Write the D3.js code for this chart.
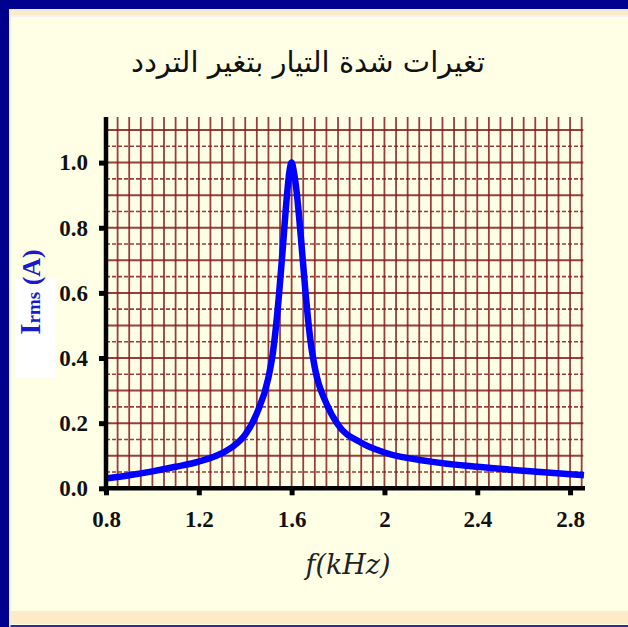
<!DOCTYPE html>
<html><head><meta charset="utf-8">
<script src="https://cdn.jsdelivr.net/npm/d3@7"></script>
<style>
html,body{margin:0;padding:0;background:#fff;}
svg{display:block;}
</style></head>
<body>
<script>
// ---- data ----
const freqKHz = [0.8, 0.9, 1.0, 1.1, 1.2, 1.3, 1.35, 1.4, 1.45, 1.5, 1.52, 1.54, 1.56, 1.58, 1.59, 1.6,
                 1.61, 1.62, 1.64, 1.66, 1.68, 1.7, 1.75, 1.8, 1.9, 2.0, 2.2, 2.4, 2.6, 2.86];
const irms    = [0.030, 0.040, 0.052, 0.066, 0.082, 0.108, 0.130, 0.165, 0.23, 0.34, 0.42, 0.55, 0.72, 0.90, 0.97, 1.0,
                 0.97, 0.92, 0.77, 0.60, 0.46, 0.37, 0.26, 0.195, 0.140, 0.110, 0.082, 0.066, 0.054, 0.040];
const xTicks = [0.8, 1.2, 1.6, 2.0, 2.4, 2.8];
const xTickLabels = ["0.8", "1.2", "1.6", "2", "2.4", "2.8"];
const yTicks = [0.0, 0.2, 0.4, 0.6, 0.8, 1.0];
const yTickLabels = ["0.0", "0.2", "0.4", "0.6", "0.8", "1.0"];
const titleText = "تغيرات شدة التيار بتغير التردد";
const xTitle = "f(kHz)";

// ---- layout ----
const W = 628, H = 627;
const svg = d3.select("body").append("svg").attr("width", W).attr("height", H);

// frame
svg.append("rect").attr("x",0).attr("y",0).attr("width",W).attr("height",H).attr("fill","#FFFFE6");
svg.append("rect").attr("x",10).attr("y",10).attr("width",W-10).attr("height",5).attr("fill","#FDEAC6");
svg.append("rect").attr("x",10).attr("y",15).attr("width",W-10).attr("height",2).attr("fill","#F4F4F4");
svg.append("rect").attr("x",10).attr("y",611).attr("width",W-10).attr("height",13).attr("fill","#FDEAC6");
svg.append("rect").attr("x",0).attr("y",625).attr("width",W).attr("height",2).attr("fill","#2A2AA0");
svg.append("rect").attr("x",0).attr("y",0).attr("width",W).attr("height",9).attr("fill","#00008E");
svg.append("rect").attr("x",0).attr("y",0).attr("width",9).attr("height",H).attr("fill","#00008E");
svg.append("rect").attr("x",9).attr("y",9).attr("width",W-9).attr("height",1.5).attr("fill","#E8E8F4");
svg.append("rect").attr("x",9).attr("y",9).attr("width",1.5).attr("height",H-9).attr("fill","#E8E8F4");

// scales
const x = d3.scaleLinear().domain([0.8, 2.857]).range([106, 583.3]);
const y = d3.scaleLinear().domain([0, 1.14]).range([488.3, 117]);

// grid
const gridColor = "#861C1C";
const g = svg.append("g");
const vGrid = d3.range(0.85, 2.851, 0.05);
g.selectAll("line.v").data(vGrid).join("line")
  .attr("x1", d => x(d)).attr("x2", d => x(d))
  .attr("y1", y(1.14)).attr("y2", y(0))
  .attr("stroke", gridColor).attr("stroke-width", 1.8).attr("stroke-opacity", 0.85);
const hGrid = d3.range(1, 23).map(i => i * 0.05);
const isMajor = d => Math.round(d*100) % 10 === 0;
g.selectAll("line.h").data(hGrid).join("line")
  .attr("x1", x(0.8)).attr("x2", x(2.857))
  .attr("y1", d => y(d)).attr("y2", d => y(d))
  .attr("stroke", gridColor)
  .attr("stroke-width", d => isMajor(d) ? 2 : 1.6)
  .attr("stroke-dasharray", d => isMajor(d) ? null : "4,2")
  .attr("stroke-opacity", 0.85);

// curve
const line = d3.line().x((d,i) => x(freqKHz[i])).y(d => y(d)).curve(d3.curveMonotoneX);
svg.append("path").datum(irms).attr("d", line)
  .attr("fill","none").attr("stroke","#0000FF").attr("stroke-width",6.5)
  .attr("stroke-linejoin","round").attr("stroke-linecap","butt");

// axes
const xAxis = d3.axisBottom(x).tickValues(xTicks).tickFormat((d,i) => xTickLabels[i]).tickSize(7).tickPadding(15);
const gx = svg.append("g").attr("transform", `translate(0,${y(0)})`).call(xAxis);
gx.select(".domain").attr("d", `M104,0H585`).attr("stroke","#000").attr("stroke-width",4.5);
gx.selectAll(".tick line").attr("stroke","#000").attr("stroke-width",5);
gx.selectAll(".tick text").attr("font-family","'Liberation Serif', 'Times New Roman', serif")
  .attr("font-weight","bold").attr("font-size","23px").attr("fill","#111");

const yAxis = d3.axisLeft(y).tickValues(yTicks).tickFormat((d,i) => yTickLabels[i]).tickSize(7).tickPadding(11);
const gy = svg.append("g").attr("transform", `translate(${x(0.8)},0)`).call(yAxis);
gy.select(".domain").attr("d", `M0,${y(1.14)}V${y(0)+4}`).attr("stroke","#000").attr("stroke-width",4.5);
gy.selectAll(".tick line").attr("stroke","#000").attr("stroke-width",5);
gy.selectAll(".tick text").attr("font-family","'Liberation Serif', 'Times New Roman', serif")
  .attr("font-weight","bold").attr("font-size","23px").attr("fill","#111");

// title
svg.append("text").attr("x", 308).attr("y", 72).attr("text-anchor","middle")
  .attr("font-family","'DejaVu Sans', 'Noto Sans', sans-serif").attr("font-size","29px")
  .attr("fill","#111").attr("direction","rtl").text(titleText);

// x title
svg.append("text").attr("x", 348).attr("y", 574).attr("text-anchor","middle")
  .attr("font-family","'DejaVu Serif', serif").attr("font-style","italic").attr("font-size","27px")
  .attr("fill","#222").text(xTitle);

// y title with white box
svg.append("rect").attr("x",15).attr("y",278).attr("width",40).attr("height",99).attr("fill","#FFFFFF");
const yt = svg.append("text").attr("transform","translate(40,292) rotate(-90)").attr("text-anchor","middle")
  .attr("font-family","'Liberation Serif', 'Times New Roman', serif").attr("font-weight","bold")
  .attr("fill","#1A1ACC");
yt.append("tspan").attr("font-size","29px").text("I");
yt.append("tspan").attr("font-size","19px").text("rms");
yt.append("tspan").attr("font-size","26px").text(" (A)");
</script>
</body></html>
